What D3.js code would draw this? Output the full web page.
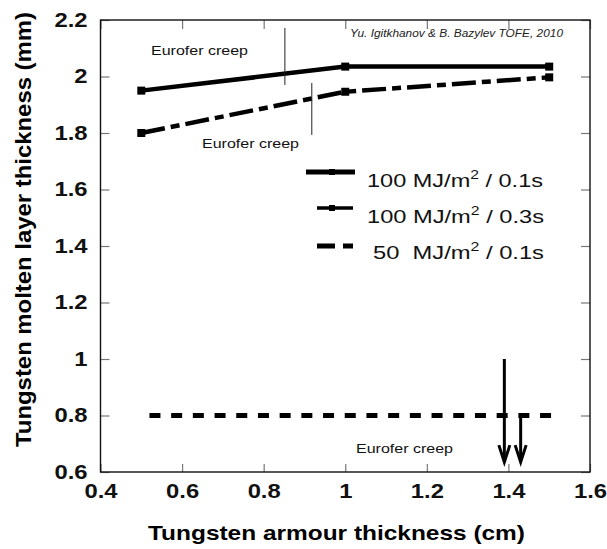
<!DOCTYPE html>
<html>
<head>
  <meta charset="utf-8">
  <title>Tungsten molten layer thickness</title>
  <script src="https://d3js.org/d3.v7.min.js"></script>
  <style>
    body { margin: 0; background: #fff; }
    text { font-family: "Liberation Sans", Arial, sans-serif; }
  </style>
</head>
<body>
  <svg width="607" height="549"></svg>

  <script>
    // chart values
    const xTicks = [0.4, 0.6, 0.8, 1.0, 1.2, 1.4, 1.6];
    const yTicks = [0.6, 0.8, 1.0, 1.2, 1.4, 1.6, 1.8, 2.0, 2.2];

    const s100_01 = [[0.5, 1.95], [1.0, 2.035], [1.5, 2.035]];
    const s100_03 = [[0.5, 1.80], [1.0, 1.946], [1.5, 1.997]];
    const s50_01 = [[0.52, 0.8], [1.507, 0.8]];

    const legendLabels = [
      { pre: "100 MJ/m", post: " / 0.1s" },
      { pre: "100 MJ/m", post: " / 0.3s" },
      { pre: "50  MJ/m", post: " / 0.1s" }
    ];

    // Eurofer creep markers: vertical lines [x, yTop, yBottom]
    const creepLines = [[0.852, 2.172, 1.97], [0.918, 1.977, 1.793]];
    // arrows [x, yFrom, yTo]
    const arrows = [[1.39, 1.0, 0.635], [1.43, 0.805, 0.635]];

    const margin = { top: 20, right: 17, bottom: 77, left: 100.5 };
    const W = 607, H = 549;
    const width = W - margin.left - margin.right;
    const height = H - margin.top - margin.bottom;
    const SX = 1.19; // the original picture is stretched horizontally

    const svg = d3.select("svg");
    const g = svg.append("g")
      .attr("transform", "translate(" + margin.left + "," + margin.top + ")");

    const x = d3.scaleLinear().domain([0.4, 1.6]).range([0, width]);
    const y = d3.scaleLinear().domain([0.6, 2.2]).range([height, 0]);
    const fmt = d => String(+d.toFixed(1));

    // axes, ticks pointing inward
    const left = g.append("g")
      .call(d3.axisLeft(y).tickValues(yTicks).tickSize(-9).tickFormat(fmt));
    left.selectAll("text").attr("x", -13 / SX).attr("transform", "scale(" + SX + ",1)");

    const bottom = g.append("g")
      .attr("transform", "translate(0," + height + ")")
      .call(d3.axisBottom(x).tickValues(xTicks).tickSize(-8).tickPadding(12).tickFormat(fmt));
    bottom.selectAll("text").attr("transform", "scale(" + SX + ",1)");

    g.append("g")
      .call(d3.axisTop(x).tickValues(xTicks).tickSize(-9).tickFormat(""));
    g.append("g")
      .attr("transform", "translate(" + width + ",0)")
      .call(d3.axisRight(y).tickValues(yTicks).tickSize(-9).tickFormat(""));

    g.selectAll(".domain").remove();
    g.selectAll(".tick line").attr("stroke", "#777").attr("stroke-width", 1.2);
    g.selectAll(".tick text")
      .style("font-size", "20px")
      .style("font-weight", "bold")
      .attr("fill", "#111");

    g.append("rect")
      .attr("width", width).attr("height", height)
      .attr("fill", "none").attr("stroke", "#111").attr("stroke-width", 1.4);

    // axis titles
    svg.append("text")
      .attr("x", 336.5).attr("y", 540)
      .attr("text-anchor", "middle")
      .attr("textLength", 377).attr("lengthAdjust", "spacingAndGlyphs")
      .style("font-size", "21px").style("font-weight", "bold")
      .text("Tungsten armour thickness (cm)");

    svg.append("text")
      .attr("transform", "translate(31,229.5) rotate(-90)")
      .attr("text-anchor", "middle")
      .attr("textLength", 435).attr("lengthAdjust", "spacingAndGlyphs")
      .style("font-size", "22px").style("font-weight", "bold")
      .text("Tungsten molten layer thickness (mm)");

    // lines
    const line = d3.line().x(d => x(d[0])).y(d => y(d[1]));

    g.append("path").datum(s100_01)
      .attr("d", line).attr("fill", "none")
      .attr("stroke", "#000").attr("stroke-width", 4.5);

    g.append("path").datum(s100_03)
      .attr("d", line).attr("fill", "none")
      .attr("stroke", "#000").attr("stroke-width", 4.5)
      .attr("stroke-dasharray", "24,6,9,6");

    g.append("path").datum(s50_01)
      .attr("d", line).attr("fill", "none")
      .attr("stroke", "#000").attr("stroke-width", 5)
      .attr("stroke-dasharray", "11,10.7");

    g.selectAll(".m1").data(s100_01.concat(s100_03)).enter()
      .append("rect")
      .attr("x", d => x(d[0]) - 4).attr("y", d => y(d[1]) - 4)
      .attr("width", 8).attr("height", 8)
      .attr("fill", "#000");

    // Eurofer creep annotations
    g.selectAll(".creep").data(creepLines).enter()
      .append("line")
      .attr("x1", d => x(d[0])).attr("x2", d => x(d[0]))
      .attr("y1", d => y(d[1])).attr("y2", d => y(d[2]))
      .attr("stroke", "#222").attr("stroke-width", 1);

    const creepLabels = [[151, 55], [202, 148], [356, 453]];
    svg.selectAll(".creepText").data(creepLabels).enter()
      .append("text")
      .attr("x", d => d[0]).attr("y", d => d[1])
      .attr("textLength", 97).attr("lengthAdjust", "spacingAndGlyphs")
      .style("font-size", "13.5px")
      .attr("fill", "#111")
      .text("Eurofer creep");

    svg.append("text")
      .attr("x", 350).attr("y", 37)
      .attr("textLength", 213).attr("lengthAdjust", "spacingAndGlyphs")
      .style("font-size", "10.5px").style("font-style", "italic")
      .attr("fill", "#222")
      .text("Yu. Igitkhanov & B. Bazylev TOFE, 2010");

    // arrows
    arrows.forEach(a => {
      const ax = x(a[0]), y0 = y(a[1]), y1 = y(a[2]);
      g.append("line")
        .attr("x1", ax).attr("x2", ax).attr("y1", y0).attr("y2", y1 - 2)
        .attr("stroke", "#000").attr("stroke-width", 3);
      g.append("path")
        .attr("d", "M" + (ax - 5.5) + "," + (y1 - 17) + "L" + ax + "," + y1 + "L" + (ax + 5.5) + "," + (y1 - 17))
        .attr("fill", "none").attr("stroke", "#000").attr("stroke-width", 3);
    });

    // legend
    const legendRows = [
      { y: 172, x1: 306, x2: 355, w: 5, dash: null, marker: 6, tx: 367, ty: 187, tl: 176 },
      { y: 208, x1: 317, x2: 353, w: 3.5, dash: null, marker: 6, tx: 367, ty: 223, tl: 177 },
      { y: 246, x1: 317, x2: 353, w: 5, dash: "18,8", marker: 0, tx: 373, ty: 259, tl: 171 }
    ];
    legendRows.forEach((r, i) => {
      svg.append("line")
        .attr("x1", r.x1).attr("x2", r.x2).attr("y1", r.y).attr("y2", r.y)
        .attr("stroke", "#000").attr("stroke-width", r.w)
        .attr("stroke-dasharray", r.dash);
      if (r.marker) {
        svg.append("rect")
          .attr("x", 332 - r.marker / 2).attr("y", r.y - r.marker / 2)
          .attr("width", r.marker).attr("height", r.marker)
          .attr("fill", "#000");
      }
      const t = svg.append("text")
        .attr("x", r.tx).attr("y", r.ty)
        .attr("textLength", r.tl).attr("lengthAdjust", "spacingAndGlyphs")
        .style("font-size", "18px")
        .style("white-space", "pre")
        .attr("fill", "#111");
      t.append("tspan").text(legendLabels[i].pre);
      t.append("tspan").attr("dy", -8).style("font-size", "12px").text("2");
      t.append("tspan").attr("dy", 8).text(legendLabels[i].post);
    });
  </script>
</body>
</html>
